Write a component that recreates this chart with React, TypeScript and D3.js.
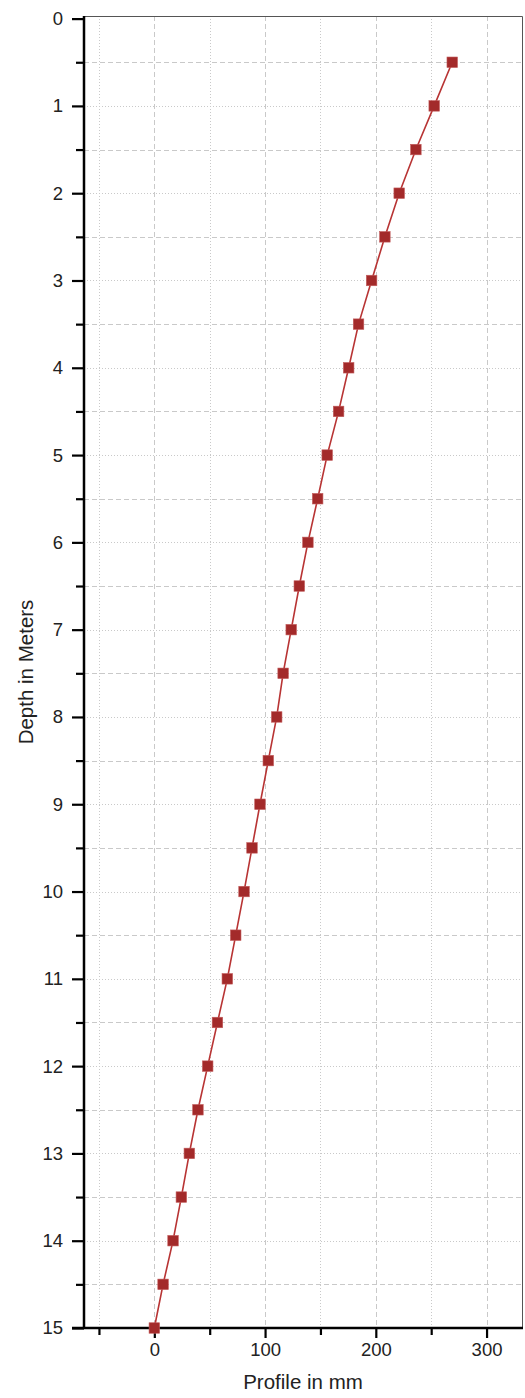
import React, { useEffect, useRef } from "react";
import * as d3 from "d3";

// depth (m) vs profile (mm)
const depths = [0.5, 1, 1.5, 2, 2.5, 3, 3.5, 4, 4.5, 5, 5.5, 6, 6.5, 7, 7.5, 8, 8.5, 9, 9.5, 10, 10.5, 11, 11.5, 12, 12.5, 13, 13.5, 14, 14.5, 15];
const profile = [269, 252.7, 236.2, 221.1, 208.2, 196.2, 184.4, 175.5, 166.4, 156.1, 147.5, 138.7, 130.9, 123.6, 116.3, 110.5, 102.9, 95.4, 88.2, 81, 73.5, 65.9, 57, 48.2, 39.4, 31.6, 24.4, 16.9, 7.9, 0];

const xMajorTicks = [0, 100, 200, 300];
const xMinorTicks = [-50, 50, 150, 250];
const yMajorTicks = [0, 1, 2, 3, 4, 5, 6, 7, 8, 9, 10, 11, 12, 13, 14, 15];
const yMinorTicks = [0.5, 1.5, 2.5, 3.5, 4.5, 5.5, 6.5, 7.5, 8.5, 9.5, 10.5, 11.5, 12.5, 13.5, 14.5];

const xTitle = "Profile in mm";
const yTitle = "Depth in Meters";

export default function App() {
  const svgRef = useRef<SVGSVGElement>(null);

  useEffect(() => {
    const W = 525, H = 1398;
    const left = 84, right = 522, top = 16, bottom = 1328;
    const font = "'Liberation Sans', Arial, sans-serif";

    const x = d3.scaleLinear().domain([-63.5, 332]).range([left, right]);
    const y = d3.scaleLinear().domain([-0.03, 15]).range([top, bottom]);

    const svg = d3.select(svgRef.current);
    svg.selectAll("*").remove();
    svg.attr("width", W).attr("height", H);

    // grid
    const grid = svg.append("g").attr("stroke", "#c9c9c9").attr("stroke-width", 1);
    grid.selectAll("line.vmaj").data(xMajorTicks).enter().append("line")
      .attr("x1", d => Math.round(x(d)) + 0.5).attr("x2", d => Math.round(x(d)) + 0.5)
      .attr("y1", top).attr("y2", bottom)
      .attr("stroke-dasharray", "5,3");
    grid.selectAll("line.vmin").data(xMinorTicks).enter().append("line")
      .attr("x1", d => Math.round(x(d)) + 0.5).attr("x2", d => Math.round(x(d)) + 0.5)
      .attr("y1", top).attr("y2", bottom)
      .attr("stroke-dasharray", "1,2");
    grid.selectAll("line.hmaj").data(yMajorTicks.filter(d => d > 0 && d < 15)).enter().append("line")
      .attr("y1", d => Math.round(y(d)) + 0.5).attr("y2", d => Math.round(y(d)) + 0.5)
      .attr("x1", left).attr("x2", right)
      .attr("stroke-dasharray", "1,2");
    grid.selectAll("line.hmin").data(yMinorTicks).enter().append("line")
      .attr("y1", d => Math.round(y(d)) + 0.5).attr("y2", d => Math.round(y(d)) + 0.5)
      .attr("x1", left).attr("x2", right)
      .attr("stroke-dasharray", "5,3");

    // frame top/right
    svg.append("path")
      .attr("d", `M${left},${top + 0.5}H${right + 0.5}V${bottom}`)
      .attr("fill", "none").attr("stroke", "#555").attr("stroke-width", 1);

    // y axis
    const yMaj = svg.append("g").attr("transform", `translate(${left},0)`)
      .call(d3.axisLeft(y).tickValues(yMajorTicks).tickSize(12).tickPadding(9).tickFormat(d3.format("d")));
    const yMin = svg.append("g").attr("transform", `translate(${left},0)`)
      .call(d3.axisLeft(y).tickValues(yMinorTicks).tickSize(8).tickFormat(() => ""));

    // x axis
    const xMaj = svg.append("g").attr("transform", `translate(0,${bottom})`)
      .call(d3.axisBottom(x).tickValues(xMajorTicks).tickSize(10).tickPadding(5).tickFormat(d3.format("d")));
    const xMin = svg.append("g").attr("transform", `translate(0,${bottom})`)
      .call(d3.axisBottom(x).tickValues(xMinorTicks).tickSize(7).tickFormat(() => ""));

    [yMaj, yMin, xMaj, xMin].forEach(g => {
      g.select(".domain").remove();
      g.selectAll(".tick line").attr("stroke", "#000").attr("stroke-width", 2.2);
      g.selectAll(".tick text").attr("fill", "#222").attr("font-family", font).attr("font-size", 18.5);
    });

    // axis lines
    svg.append("line").attr("x1", left).attr("x2", left).attr("y1", top).attr("y2", bottom + 1)
      .attr("stroke", "#000").attr("stroke-width", 2.5);
    svg.append("line").attr("x1", left - 12).attr("x2", right + 1).attr("y1", bottom).attr("y2", bottom)
      .attr("stroke", "#000").attr("stroke-width", 2.5);

    // series
    const pts = depths.map((dep, i) => ({ dep, val: profile[i] }));
    const line = d3.line<{ dep: number; val: number }>().x(d => x(d.val)).y(d => y(d.dep));
    svg.append("path").datum(pts)
      .attr("d", line)
      .attr("fill", "none").attr("stroke", "#b83434").attr("stroke-width", 1.6);
    const sz = 10.5;
    svg.selectAll("rect.pt").data(pts).enter().append("rect")
      .attr("x", d => x(d.val) - sz / 2).attr("y", d => y(d.dep) - sz / 2)
      .attr("width", sz).attr("height", sz)
      .attr("fill", "#a32a2a").attr("stroke", "#c25a5a").attr("stroke-width", 0.6);

    // titles
    svg.append("text").attr("x", (left + right) / 2).attr("y", 1389)
      .attr("text-anchor", "middle").attr("font-family", font).attr("font-size", 20.5).attr("fill", "#222")
      .text(xTitle);
    svg.append("text").attr("transform", `translate(33,${(top + bottom) / 2}) rotate(-90)`)
      .attr("text-anchor", "middle").attr("font-family", font).attr("font-size", 20.5).attr("fill", "#222")
      .text(yTitle);
  }, []);

  return (
    <svg ref={svgRef} style={{ position: "absolute", left: 0, top: 0, background: "#fff" }} />
  );
}
